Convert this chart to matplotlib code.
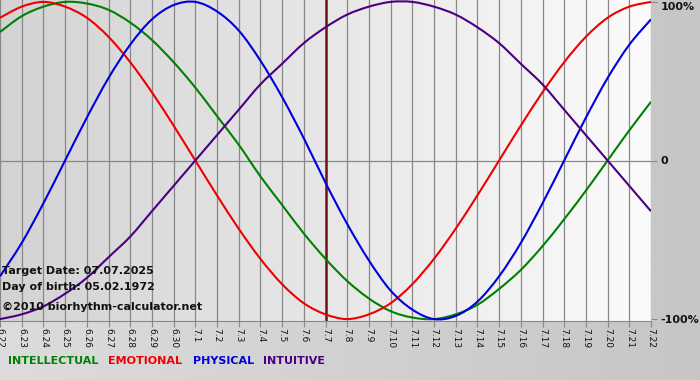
import matplotlib
matplotlib.use("Agg")
import matplotlib.pyplot as plt
import numpy as np
from matplotlib.colors import LinearSegmentedColormap
from matplotlib.path import Path
from matplotlib.patches import PathPatch

# ---- data ----
day_labels = ["6.22", "6.23", "6.24", "6.25", "6.26", "6.27", "6.28", "6.29", "6.30",
              "7.1", "7.2", "7.3", "7.4", "7.5", "7.6", "7.7", "7.8", "7.9", "7.10",
              "7.11", "7.12", "7.13", "7.14", "7.15", "7.16", "7.17", "7.18", "7.19",
              "7.20", "7.21", "7.22"]
intellectual = [0.81, 0.91, 0.97, 1.00, 0.99, 0.95, 0.87, 0.76, 0.62, 0.46, 0.28, 0.10,
                -0.10, -0.28, -0.46, -0.62, -0.76, -0.87, -0.95, -0.99, -1.00, -0.97,
                -0.91, -0.81, -0.69, -0.54, -0.37, -0.19, 0.00, 0.19, 0.37]
emotional = [0.90, 0.97, 1.00, 0.97, 0.90, 0.78, 0.62, 0.43, 0.22, 0.00, -0.22, -0.43,
             -0.62, -0.78, -0.90, -0.97, -1.00, -0.97, -0.90, -0.78, -0.62, -0.43,
             -0.22, 0.00, 0.22, 0.43, 0.62, 0.78, 0.90, 0.97, 1.00]
physical = [-0.73, -0.52, -0.27, 0.00, 0.27, 0.52, 0.73, 0.89, 0.98, 1.00, 0.94, 0.82,
            0.63, 0.40, 0.14, -0.14, -0.40, -0.63, -0.82, -0.94, -1.00, -0.98, -0.89,
            -0.73, -0.52, -0.27, 0.00, 0.27, 0.52, 0.73, 0.89]
intuitive = [-1.00, -0.97, -0.92, -0.84, -0.74, -0.61, -0.48, -0.32, -0.16, 0.00, 0.16,
             0.32, 0.48, 0.61, 0.74, 0.84, 0.92, 0.97, 1.00, 1.00, 0.97, 0.92, 0.84,
             0.74, 0.61, 0.48, 0.32, 0.16, 0.00, -0.16, -0.32]
target_index = 15
y_ticks = [1, 0, -1]
y_labels = ["100%", "0", "-100%"]
series_names = ["INTELLECTUAL", "EMOTIONAL", "PHYSICAL", "INTUITIVE"]
info_lines = ["Target Date: 07.07.2025", "Day of birth: 05.02.1972"]
copyright_text = "\u00a92010 biorhythm-calculator.net"

# ---- styles ----
colors = ["#008000", "#ee0000", "#0000dd", "#4b0082"]
W, H = 700, 380
fig = plt.figure(figsize=(W / 100, H / 100), dpi=100)

# figure background gradient
bg = fig.add_axes([0, 0, 1, 1], zorder=-10)
bg.imshow(np.linspace(0, 1, 256).reshape(1, -1), aspect="auto", extent=[0, 1, 0, 1],
          cmap=LinearSegmentedColormap.from_list("b", ["#dcdcdc", "#c6c6c6"]))
bg.set_axis_off()

ax = fig.add_axes([0, 59 / H, 651 / W, 321 / H])
x = np.arange(len(day_labels))
ylim = 1.012
ax.imshow(np.linspace(0, 1, 256).reshape(1, -1), aspect="auto",
          extent=[0, len(x) - 1, -ylim, ylim], zorder=0,
          cmap=LinearSegmentedColormap.from_list("p", ["#d3d3d3", "#fbfbfb"]))
ax.set_xlim(0, len(x) - 1)
ax.set_ylim(-ylim, ylim)

for xi in x:
    ax.axvline(xi, color="#888888", lw=0.9, zorder=1)
ax.axhline(0, color="#888888", lw=0.9, zorder=1)
ax.axvline(target_index, color="#701515", lw=1.8, zorder=2)


def smooth_path(xs, ys):
    """Cubic Bezier path through the data points (Catmull-Rom tangents)."""
    pts = np.column_stack([xs, ys]).astype(float)
    ext = np.vstack([pts[0], pts, pts[-1]])
    verts = [pts[0]]
    codes = [Path.MOVETO]
    for i in range(len(pts) - 1):
        p0, p1, p2, p3 = ext[i], ext[i + 1], ext[i + 2], ext[i + 3]
        verts += [p1 + (p2 - p0) / 6, p2 - (p3 - p1) / 6, p2]
        codes += [Path.CURVE4] * 3
    return Path(verts, codes)


for vals, c in zip([intellectual, emotional, physical, intuitive], colors):
    ax.add_patch(PathPatch(smooth_path(x, vals), facecolor="none", edgecolor=c,
                           lw=1.5, zorder=3))

for s in ["top", "left", "right"]:
    ax.spines[s].set_visible(False)
ax.spines["bottom"].set_color("#888888")
ax.set_xticks(x)
ax.set_xticklabels(day_labels, rotation=-90, fontsize=6.5, color="#111111")
ax.tick_params(axis="x", length=4, color="#888888", pad=1)
ax.yaxis.tick_right()
ax.set_yticks(y_ticks)
ax.set_yticklabels(y_labels, fontsize=8, fontweight="bold", color="#111111")
ax.tick_params(axis="y", length=4, color="#888888", pad=3)
ax.get_yticklabels()[0].set_va("top")


def fx(px):
    return px / W


def fy(py):
    return 1 - py / H


fig.text(fx(2), fy(271), info_lines[0], fontsize=8, fontweight="bold", color="#111111", va="center")
fig.text(fx(2), fy(287), info_lines[1], fontsize=8, fontweight="bold", color="#111111", va="center")
fig.text(fx(2), fy(307), copyright_text, fontsize=8, fontweight="bold", color="#111111", va="center")

legend_x = [8, 108, 193, 263]
for name, c, lx in zip(series_names, colors, legend_x):
    fig.text(fx(lx), fy(361), name, fontsize=8, fontweight="bold", color=c, va="center")

fig.savefig("out.png", dpi=100)
